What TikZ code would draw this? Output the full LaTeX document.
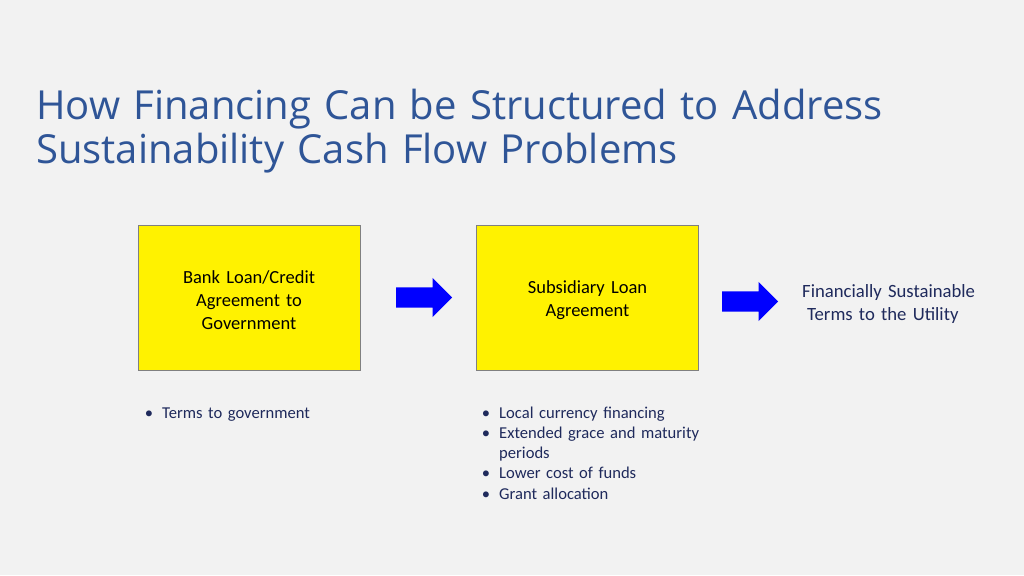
\documentclass[tikz,border=0pt]{standalone}
\usepackage{fontspec}
\setmainfont{Carlito}
\newfontfamily\titlefont{Open Sans}
\usetikzlibrary{shapes,arrows}
\definecolor{titleblue}{HTML}{2F5597}
\definecolor{navy}{HTML}{1F2A5C}
\definecolor{slidegray}{HTML}{F2F2F2}
\tikzstyle{block} = [draw=gray, fill=yellow, rectangle, 
    minimum height=145pt, minimum width=222pt, text width=190pt, align=center,
    execute at begin node={\rule{0pt}{19pt}}]
\tikzstyle{flow} = [single arrow, fill=blue, inner xsep=0pt, inner ysep=10pt,
    minimum height=56pt, single arrow head extend=9.5pt, anchor=tail]
\tikzstyle{bullets} = [anchor=base west, inner sep=0pt, text width=260pt, align=left, text=navy]

\begin{document}
\begin{tikzpicture}[x=1pt, y=-1pt]
\tikzstyle{heading} = [anchor=base west, inner sep=0pt, text width=950pt, align=left, text=titleblue]
\tikzstyle{result} = [anchor=base west, inner sep=0pt, text width=220pt, align=left, text=navy]   % slide background first

\def\bitem{\noindent\llap{\textbullet\hspace{9pt}}}

    \fill[slidegray] (0,0) rectangle (1024,575);
    \useasboundingbox (0,0) rectangle (1024,575);

    \node [heading, font=\titlefont\fontsize{40}{44}\selectfont] (title) at (36,119)
        {How Financing Can be Structured to Address\\Sustainability Cash Flow Problems};

    \node [block, font=\fontsize{18.5}{23}\selectfont] (bank_loan) at (249,297.5)
        {Bank Loan/Credit\\Agreement to\\Government};
    \node [flow] (arrow_one) at (396,297.5) {};
    \node [block, font=\fontsize{18.5}{23}\selectfont] (sub_loan) at (587.5,297.5)
        {Subsidiary Loan\\Agreement};
    \node [flow] (arrow_two) at (722,301.5) {};
    \node [result, font=\fontsize{18.7}{23}\selectfont] (utility) at (802,297)
        {Financially Sustainable\\\hspace*{5pt}Terms to the Utility};

    % Bullet lists under the blocks
    \node [bullets, font=\fontsize{16.6}{20.3}\selectfont] (gov_terms) at (148,418)
        {\leftskip=14pt \bitem Terms to government\par};
    \node [bullets, font=\fontsize{16.6}{20.3}\selectfont] (sub_terms) at (485,418)
        {\leftskip=14pt \bitem Local currency financing\par
        \bitem Extended grace and maturity\\periods\par
        \bitem Lower cost of funds\par
        \bitem Grant allocation\par};

\end{tikzpicture}
\end{document}
